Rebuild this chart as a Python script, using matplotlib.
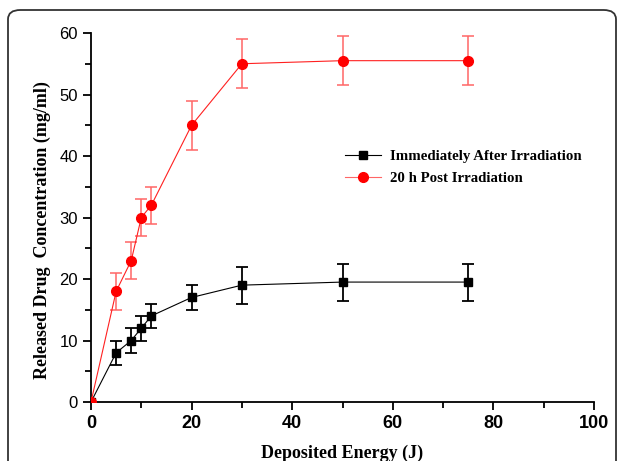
import numpy as np
import matplotlib
matplotlib.use("Agg")
import matplotlib.pyplot as plt
from matplotlib.patches import FancyBboxPatch
from matplotlib.lines import Line2D
from matplotlib.ticker import MultipleLocator

# deposited energy (J)
energy = [0, 5, 8, 10, 12, 20, 30, 50, 75]
# released drug concentration (mg/ml)
immediate = [0, 8, 10, 12, 14, 17, 19, 19.5, 19.5]
immediate_err = [0, 2, 2, 2, 2, 2, 3, 3, 3]
post20h = [0, 18, 23, 30, 32, 45, 55, 55.5, 55.5]
post20h_err = [0, 3, 3, 3, 3, 4, 4, 4, 4]

W, H = 619, 461
fig = plt.figure(figsize=(W / 100, H / 100), dpi=100)
ax = fig.add_axes([91 / W, 1 - 402 / H, (594 - 91) / W, (402 - 33) / H])

# rounded frame around the figure
frame = FancyBboxPatch((8 / W, -0.2), (616 - 8) / W, 1 - 10 / H + 0.2,
                       boxstyle="round,pad=0,rounding_size=0.02",
                       transform=fig.transFigure, fill=False,
                       edgecolor="#333333", linewidth=1.3, clip_on=False)
fig.patches.append(frame)

ax.errorbar(energy, immediate, yerr=immediate_err, color="black", lw=0.8,
            marker="s", ms=6, ecolor="black", elinewidth=1.3, capsize=4,
            capthick=1.3, zorder=3)
ax.errorbar(energy, post20h, yerr=post20h_err, color="#ff2020", lw=0.8,
            marker="o", ms=7, mfc="red", mec="red", ecolor="#ff6666",
            elinewidth=1.1, capsize=4, capthick=1.1, zorder=3)

ax.set_xlim(0, 100)
ax.set_ylim(0, 60)
ax.xaxis.set_major_locator(MultipleLocator(20))
ax.xaxis.set_minor_locator(MultipleLocator(10))
ax.yaxis.set_major_locator(MultipleLocator(10))
ax.yaxis.set_minor_locator(MultipleLocator(5))
ax.spines["top"].set_visible(False)
ax.spines["right"].set_visible(False)
for s in ("left", "bottom"):
    ax.spines[s].set_linewidth(1.3)
ax.tick_params(which="major", direction="out", length=6, width=1.3)
ax.tick_params(which="minor", direction="out", length=4, width=1.3)

for lab in ax.get_xticklabels():
    lab.set_fontfamily("Liberation Sans")
    lab.set_fontweight("bold")
    lab.set_fontsize(13)
for lab in ax.get_yticklabels():
    lab.set_fontfamily("Liberation Sans")
    lab.set_fontsize(12)

ax.set_xlabel("Deposited Energy (J)", fontfamily="Liberation Serif",
              fontweight="bold", fontsize=13, labelpad=9)
ax.set_ylabel("Released Drug  Concentration (mg/ml)",
              fontfamily="Liberation Serif", fontweight="bold", fontsize=13)
ax.yaxis.set_label_coords((51 - 91) / 503, (402 - 230) / 369)

handles = [
    Line2D([], [], color="black", lw=0.8, marker="s", ms=6),
    Line2D([], [], color="#ff6666", lw=0.8, marker="o", ms=7,
           mfc="red", mec="red"),
]
labels = ["Immediately After Irradiation", "20 h Post Irradiation"]
leg = ax.legend(handles, labels, loc="upper left",
                bbox_to_anchor=(0.479, 0.72), frameon=False,
                prop={"family": "Liberation Serif", "weight": "bold",
                      "size": 10.7},
                handlelength=2.4, handletextpad=0.6, labelspacing=0.6)

fig.savefig("out.png", dpi=100)
